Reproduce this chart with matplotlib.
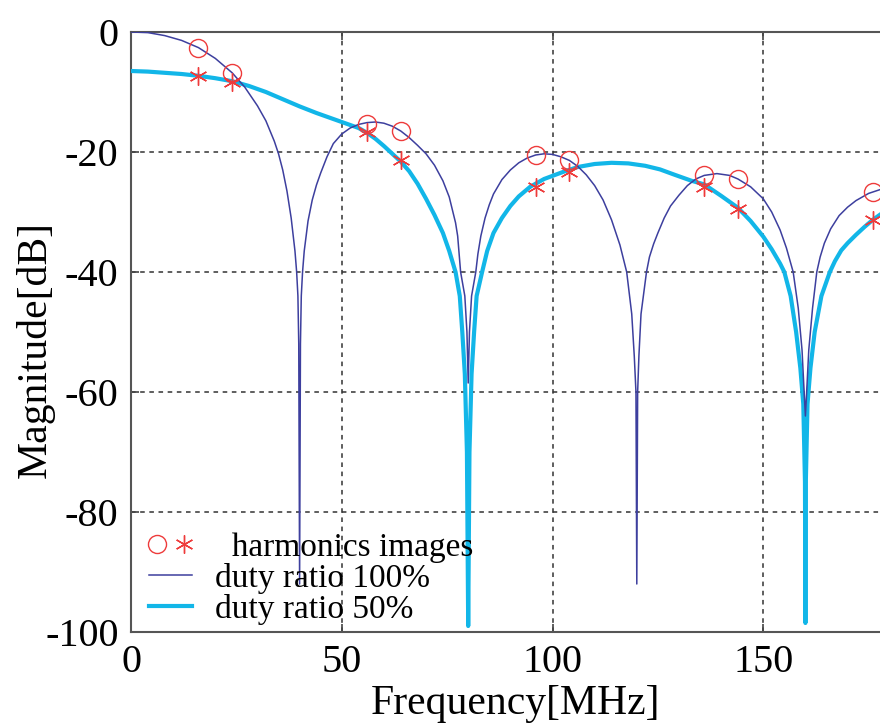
import matplotlib
matplotlib.use("Agg")
import matplotlib.pyplot as plt
from matplotlib.lines import Line2D
from matplotlib.legend_handler import HandlerTuple

# duty ratio 100% curve
freq_100 = [0, 4, 8, 12, 16, 20, 24, 27, 30, 32, 34, 35, 36, 37, 38, 38.9, 39.3, 39.6, 39.8, 40,
            40.2, 40.4, 40.7, 41.1, 42, 43, 44, 45, 46.5, 48, 50, 52, 54, 56, 58, 60, 62, 64, 66,
            68, 70, 72, 74, 75.5, 77, 77.5, 78.2, 79.2, 79.7, 80, 80.3, 80.8, 81.8, 82.3, 83, 84,
            85, 86, 88, 90, 92, 94, 96, 98, 100, 102, 104, 106, 108, 110, 112, 114, 116, 117.6,
            118.8, 119.4, 119.8, 120, 120.2, 120.5, 121, 122.3, 123, 124, 125, 126.5, 128, 130,
            132, 134, 136, 139, 142, 144, 147, 150, 152, 154, 155.5, 157.1, 158.3, 159.2, 159.7,
            160, 160.3, 160.8, 161.7, 162.7, 163.5, 164.5, 166, 168, 170, 172, 175, 178, 180]
mag_100 = [0.0, -0.1, -0.6, -1.4, -2.6, -4.4, -6.8, -9.2, -12.3, -14.8, -18.2, -20.3, -23.0,
           -26.5, -31.0, -36.5, -40, -44, -52, -92, -52, -44, -40, -36.5, -31.5, -28.0, -25.5,
           -23.5, -20.8, -18.6, -17.0, -16.0, -15.4, -15.1, -15.0, -15.2, -15.7, -16.5, -17.6,
           -18.9, -20.3, -22.2, -24.8, -27.5, -31.8, -34, -40, -44, -50, -58.5, -50, -44, -40,
           -37, -34, -31, -28.8, -27.0, -24.6, -23.0, -21.8, -21.0, -20.5, -20.3, -20.4, -20.8,
           -21.4, -22.4, -23.8, -25.6, -28.0, -31.3, -35.5, -40, -47, -54, -60, -92, -60, -54,
           -47, -40, -37.5, -35.3, -33.5, -31.0, -29.0, -27.2, -25.6, -24.5, -23.9, -23.6, -23.9,
           -24.5, -25.8, -27.8, -30.0, -33.0, -36, -40, -46, -53, -60, -64, -60, -53, -46, -40,
           -37.5, -35.2, -32.8, -30.6, -29.2, -28.1, -26.9, -26.2, -25.9]

# duty ratio 50% curve
freq_50 = [0, 4, 8, 12, 16, 20, 24, 28, 32, 36, 40, 44, 48, 50, 52, 54, 56, 58, 60, 62, 64, 66,
           68, 70, 72, 74, 75.5, 77, 78, 78.6, 79.2, 79.7, 80, 80.3, 80.8, 81.4, 82, 83.3, 84.5,
           86, 88, 90, 92, 94.7, 98, 102.6, 106, 110, 114, 118, 122, 125.5, 129, 133, 136, 140,
           144, 147, 150, 152, 154, 155, 156.5, 157.8, 158.8, 159.5, 159.9, 160, 160.1, 160.5,
           161.2, 162.2, 163.8, 165.8, 167, 168.5, 170, 172, 174, 176, 178, 180]
mag_50 = [-6.5, -6.6, -6.8, -7.0, -7.3, -7.7, -8.2, -9.0, -10.0, -11.2, -12.4, -13.5, -14.5,
          -15.0, -15.5, -16.0, -16.8, -17.8, -19.0, -20.3, -21.6, -23.2, -25.3, -27.8, -30.5,
          -33.5, -36.5, -40, -44, -50, -57, -70, -99, -70, -57, -50, -44, -40, -36.5, -33.5,
          -31.0, -29.0, -27.4, -25.8, -24.5, -23.3, -22.5, -22.0, -21.8, -21.9, -22.3, -22.9,
          -23.8, -24.8, -25.4, -27.3, -29.3, -31.5, -34.1, -36.2, -38.6, -40, -44, -50, -56,
          -62, -75, -98.5, -75, -62, -56, -50, -44, -40, -38.2, -36.4, -35.2, -33.8, -32.5,
          -31.3, -30.3, -29.5]

# harmonics images
harm_freq = [16, 24, 56, 64, 96, 104, 136, 144, 176]
harm_circle = [-2.6, -6.8, -15.4, -16.5, -20.5, -21.3, -23.9, -24.5, -26.6]
harm_star = [-7.4, -8.3, -16.6, -21.4, -25.8, -23.3, -25.9, -29.5, -31.4]

blue = "#3d3f9e"
cyan = "#12b6e8"
red = "#ee3b3b"

plt.rcParams["font.family"] = ["Liberation Serif", "DejaVu Serif"]
plt.rcParams["axes.unicode_minus"] = False

fig = plt.figure(figsize=(8.8, 7.23), dpi=100)
ax = fig.add_axes([131 / 880, 91 / 723, 758.7 / 880, 600 / 723])

ax.plot(freq_50, mag_50, color=cyan, lw=3.0, zorder=3)
ax.plot(freq_100, mag_100, color=blue, lw=1.1, zorder=4)
ax.plot(harm_freq, harm_circle, ls="none", marker="o", ms=13, mfc="none", mec=red, mew=1.0, zorder=5)
ax.plot(harm_freq, harm_star, ls="none", marker=(6, 2, 0), ms=13, mec=red, mew=1.0, zorder=5)

ax.set_xlim(0, 180)
ax.set_ylim(-100, 0)
ax.set_xticks([0, 50, 100, 150])
ax.set_yticks([0, -20, -40, -60, -80, -100])
ax.grid(True, color="#333333", ls=(0, (3, 3)), lw=1.1)
ax.tick_params(direction="in", length=6, width=1.2, color="#444444", labelsize=29,
               top=True, right=True, pad=9)
for s in ax.spines.values():
    s.set_color("#555555")
    s.set_linewidth(1.5)

ax.set_xlabel("Frequency[MHz]", fontsize=30)
ax.xaxis.set_label_coords(0.507, -0.087)
ax.set_ylabel("Magnitude[dB]", fontsize=30)
ax.yaxis.set_label_coords(-0.101, 0.47)

h_circ = Line2D([], [], ls="none", marker="o", ms=13, mfc="none", mec=red, mew=1.0)
h_star = Line2D([], [], ls="none", marker=(6, 2, 0), ms=13, mec=red, mew=1.0)
h_100 = Line2D([], [], color=blue, lw=1.1)
h_50 = Line2D([], [], color=cyan, lw=3.0)
ax.legend([(h_circ, h_star), h_100, h_50],
          ["  harmonics images", "duty ratio 100%", "duty ratio 50%"],
          handler_map={tuple: HandlerTuple(ndivide=None, pad=0.3)},
          loc="lower left", bbox_to_anchor=(0.01, -0.005), frameon=False, fontsize=24,
          handlelength=1.3, handletextpad=0.7, labelspacing=0.0, borderpad=0.3,
          borderaxespad=0.0)

fig.savefig("out.png", dpi=100)
